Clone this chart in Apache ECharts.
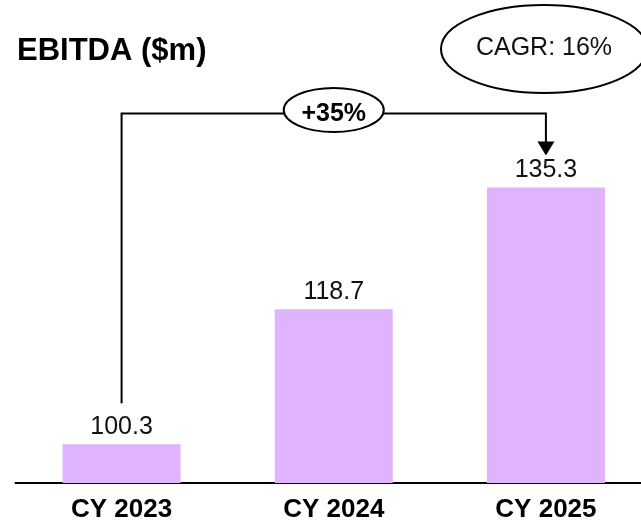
<!DOCTYPE html>
<html>
<head>
<meta charset="utf-8">
<title>EBITDA</title>
<script src="https://cdn.jsdelivr.net/npm/echarts@6/dist/echarts.min.js"></script>
<style>
html, body { margin: 0; padding: 0; background: #fff; overflow: hidden; }
/* chart is a little wider than the window: the last band runs past the right edge */
#main { width: 652px; height: 523px; }
</style>
</head>
<body>
<div id="main"></div>
<script>
// data
var categories = ['CY 2023', 'CY 2024', 'CY 2025'];
var ebitda = [100.3, 118.7, 135.3];
var growthLabel = '+35%';
var cagrLabel = 'CAGR: 16%';
var titleText = 'EBITDA ($m)';

var font = "'Liberation Sans', Arial, sans-serif";
var chart = echarts.init(document.getElementById('main'));

chart.setOption({
  animation: false,
  backgroundColor: '#fff',
  title: {
    text: titleText,
    left: 17,
    top: 36,
    padding: 0,
    textStyle: { fontFamily: font, fontSize: 31, fontWeight: 'bold', color: '#000' }
  },
  grid: { left: 15.5, right: 0, top: 153, bottom: 39.5 },
  xAxis: {
    type: 'category',
    data: categories,
    axisLine: { lineStyle: { color: '#000', width: 2 } },
    axisTick: { show: false },
    axisLabel: { margin: 14, fontFamily: font, fontSize: 26, fontWeight: 'bold', color: '#000' }
  },
  yAxis: {
    type: 'value',
    min: 95,
    max: 140,
    show: false,
    splitLine: { show: false }
  },
  series: [{
    type: 'bar',
    data: ebitda,
    barWidth: 118,
    itemStyle: { color: '#dfb3fe' },
    label: {
      show: true,
      position: 'top',
      distance: 5,
      fontFamily: font,
      fontSize: 25,
      color: '#111'
    }
  }]
});

// bracket + bubbles, placed from the bar positions
var p0 = chart.convertToPixel({ seriesIndex: 0 }, [0, ebitda[0]]);
var p1 = chart.convertToPixel({ seriesIndex: 0 }, [1, ebitda[1]]);
var p2 = chart.convertToPixel({ seriesIndex: 0 }, [2, ebitda[2]]);
var lineY = 113.5;

chart.setOption({
  graphic: [
    {
      type: 'polyline',
      shape: { points: [[p0[0], p0[1] - 41], [p0[0], lineY], [p2[0], lineY], [p2[0], p2[1] - 45]] },
      style: { stroke: '#000', lineWidth: 2, fill: null }
    },
    {
      type: 'polygon',
      shape: { points: [[p2[0] - 8.5, p2[1] - 46], [p2[0] + 8.5, p2[1] - 46], [p2[0], p2[1] - 32]] },
      style: { fill: '#000' }
    },
    {
      type: 'ellipse',
      shape: { cx: p1[0], cy: 110, rx: 50, ry: 22 },
      style: { fill: '#fff', stroke: '#000', lineWidth: 2 }
    },
    {
      type: 'text',
      style: {
        text: growthLabel, x: p1[0], y: 114, align: 'center', verticalAlign: 'middle',
        fontFamily: font, fontSize: 25, fontWeight: 'bold', fill: '#000'
      }
    },
    {
      type: 'ellipse',
      shape: { cx: 544, cy: 49, rx: 103, ry: 44 },
      style: { fill: '#fff', stroke: '#000', lineWidth: 2 }
    },
    {
      type: 'text',
      style: {
        text: cagrLabel, x: 544, y: 48.5, align: 'center', verticalAlign: 'middle',
        fontFamily: font, fontSize: 25, fill: '#111'
      }
    }
  ]
});
</script>
</body>
</html>
